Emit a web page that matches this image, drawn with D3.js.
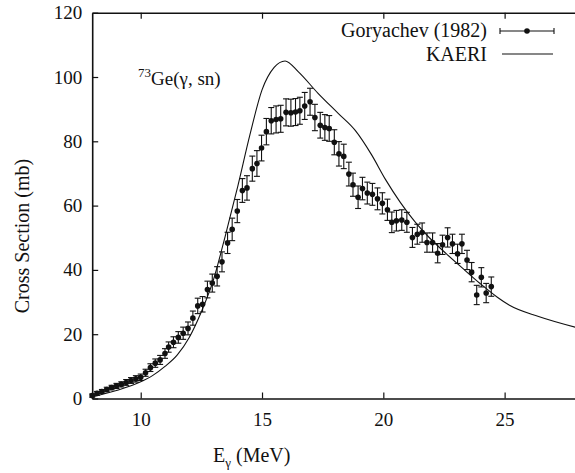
<!DOCTYPE html>
<html>
<head>
<meta charset="utf-8">
<script src="https://cdn.jsdelivr.net/npm/d3@7"></script>
<style>
  html, body { margin: 0; padding: 0; background: #fff; }
  svg { display: block; }
</style>
</head>
<body>
<svg id="chart" width="575" height="473"></svg>
<script>
// ---- Data ----
const energy = [8.0,8.2,8.4,8.6,8.8,9.0,9.2,9.4,9.6,9.8,10.0,
  10.2,10.4,10.6,10.8,11.0,
  11.15,11.35,11.55,11.75,11.95,12.15,12.35,12.55,12.75,12.95,
  13.15,13.35,13.58,13.77,13.98,
  14.19,14.38,14.6,14.79,14.98,
  15.18,15.38,15.58,15.77,15.99,
  16.19,16.38,16.56,16.76,16.98,
  17.18,17.4,17.59,17.77,17.98,
  18.17,18.37,18.58,18.75,18.96,
  19.14,19.34,19.55,19.76,19.96,
  20.17,20.35,20.54,20.76,20.97,
  21.2,21.4,21.6,21.8,
  22.03,22.24,22.44,22.65,22.85,
  23.06,23.24,23.45,23.64,23.85,
  24.04,24.24,24.45];
const crossSection = [0.9,1.6,2.2,2.8,3.4,3.9,4.4,5.0,5.6,6.1,6.6,
  8.0,9.6,11.0,12.0,14.0,
  16.0,17.5,19.0,20.3,21.8,25.0,28.8,29.3,33.9,35.9,
  38.0,42.5,48.4,52.6,58.3,
  64.7,65.5,71.5,73.1,77.9,
  83.0,86.4,86.8,87.0,89.0,
  88.9,89.1,89.5,91.0,92.3,
  87.4,85.0,84.3,84.0,79.7,
  76.1,75.3,69.8,66.5,62.6,
  65.3,63.9,63.5,62.1,60.7,
  58.7,54.8,55.3,55.5,54.8,
  50.1,51.1,51.6,48.5,
  48.5,45.2,47.8,50.1,48.1,
  45.0,48.1,43.1,39.3,32.2,
  37.7,32.8,34.8];
const errors = [0.5,0.6,0.6,0.7,0.7,0.8,0.8,0.9,0.9,1.0,1.0,
  1.1,1.2,1.3,1.4,1.5,
  1.6,1.7,1.8,1.9,2.0,2.2,2.4,2.4,2.6,2.8,
  3.0,3.1,3.3,3.5,3.6,
  3.7,3.8,3.9,4.0,4.0,
  4.1,4.1,4.2,4.2,4.2,
  4.2,4.2,4.2,4.2,4.2,
  4.1,4.0,4.0,4.0,3.9,
  3.8,3.8,3.7,3.6,3.5,
  3.5,3.4,3.4,3.4,3.3,
  3.3,3.2,3.2,3.2,3.1,
  3.1,3.1,3.0,3.0,
  3.0,3.0,3.0,3.0,3.0,
  3.0,3.0,3.0,3.0,3.0,
  3.0,3.0,3.0];

const kaeriEnergy = [8.0,9.0,10.0,10.5,11.0,11.5,12.0,12.5,13.0,13.5,14.0,14.5,15.0,15.5,15.95,16.5,17.3,18.15,18.85,19.5,20.1,20.7,21.3,21.9,22.6,23.3,24.0,24.7,25.2,26.4,28.0];
const kaeriXS     = [0.5,2.5,5.2,7.2,10.0,13.5,19.0,27.0,37.0,51.0,66.0,82.0,96.0,103.0,105.0,101.6,95.0,88.6,83.3,76.0,68.0,61.0,55.0,50.0,45.0,40.3,35.7,31.5,29.0,25.5,22.0];

const xTicks = [10, 15, 20, 25];
const yTicks = [0, 20, 40, 60, 80, 100, 120];
const legendLabels = ["Goryachev (1982)", "KAERI"];

// ---- Layout ----
const svg = d3.select("#chart");
const x = d3.scaleLinear().domain([8, 28]).range([92.2, 577.4]);
const y = d3.scaleLinear().domain([0, 120]).range([398.5, 12.7]);

const axisColor = "#111";
const FONT = "Liberation Serif";

// bottom axis
const gB = svg.append("g").attr("transform", `translate(0,${y(0)})`)
  .call(d3.axisBottom(x).tickValues(xTicks).tickSizeInner(-6).tickSizeOuter(0).tickPadding(14));
// top axis
const gT = svg.append("g").attr("transform", `translate(0,${y(120)})`)
  .call(d3.axisTop(x).tickValues(xTicks).tickSizeInner(-6).tickSizeOuter(0).tickFormat(""));
// left axis
const gL = svg.append("g").attr("transform", `translate(${x(8)},0)`)
  .call(d3.axisLeft(y).tickValues(yTicks).tickSizeInner(-6).tickSizeOuter(0).tickPadding(10));

[gB, gT, gL].forEach(g => {
  g.attr("font-family", FONT);
  g.select(".domain").attr("stroke", axisColor).attr("stroke-width", 1.6);
  g.selectAll(".tick line").attr("stroke", axisColor).attr("stroke-width", 1.2);
  g.selectAll(".tick text").attr("font-family", FONT).attr("font-size", 19).attr("fill", "#111");
});

// KAERI line
svg.append("path")
  .datum(kaeriEnergy.map((e, i) => [e, kaeriXS[i]]))
  .attr("fill", "none")
  .attr("stroke", "#111")
  .attr("stroke-width", 1.1)
  .attr("d", d3.line().curve(d3.curveMonotoneX).x(d => x(d[0])).y(d => y(d[1])));

// Goryachev data with error bars
const pts = energy.map((e, i) => ({e, v: crossSection[i], err: errors[i]}));
const capW = 3;
const gp = svg.append("g");
const eb = gp.selectAll("g.eb").data(pts).join("g").attr("class", "eb");
eb.append("line")
  .attr("x1", d => x(d.e)).attr("x2", d => x(d.e))
  .attr("y1", d => y(d.v - d.err)).attr("y2", d => y(d.v + d.err))
  .attr("stroke", "#111").attr("stroke-width", 1.1);
eb.append("line")
  .attr("x1", d => x(d.e) - capW).attr("x2", d => x(d.e) + capW)
  .attr("y1", d => y(d.v + d.err)).attr("y2", d => y(d.v + d.err))
  .attr("stroke", "#111").attr("stroke-width", 1.1);
eb.append("line")
  .attr("x1", d => x(d.e) - capW).attr("x2", d => x(d.e) + capW)
  .attr("y1", d => y(d.v - d.err)).attr("y2", d => y(d.v - d.err))
  .attr("stroke", "#111").attr("stroke-width", 1.1);
eb.append("circle")
  .attr("cx", d => x(d.e)).attr("cy", d => y(d.v)).attr("r", 2.8)
  .attr("fill", "#111");

// Legend
const lg = svg.append("g");
lg.append("text").attr("x", 487).attr("y", 37).attr("text-anchor", "end")
  .attr("font-family", FONT).attr("font-size", 20).attr("fill", "#111").text(legendLabels[0]);
lg.append("text").attr("x", 487).attr("y", 61).attr("text-anchor", "end")
  .attr("font-family", FONT).attr("font-size", 20).attr("fill", "#111").text(legendLabels[1]);
const ly1 = 31;
lg.append("line").attr("x1", 500).attr("x2", 554).attr("y1", ly1).attr("y2", ly1).attr("stroke", "#111").attr("stroke-width", 1.1);
lg.append("line").attr("x1", 500).attr("x2", 500).attr("y1", ly1 - 3).attr("y2", ly1 + 3).attr("stroke", "#111").attr("stroke-width", 1.1);
lg.append("line").attr("x1", 554).attr("x2", 554).attr("y1", ly1 - 3).attr("y2", ly1 + 3).attr("stroke", "#111").attr("stroke-width", 1.1);
lg.append("circle").attr("cx", 527).attr("cy", ly1).attr("r", 2.8).attr("fill", "#111");
lg.append("line").attr("x1", 502).attr("x2", 553).attr("y1", 54).attr("y2", 54).attr("stroke", "#111").attr("stroke-width", 1.1);

// Reaction annotation
const ann = svg.append("text").attr("x", 138).attr("y", 85)
  .attr("font-family", FONT).attr("font-size", 19).attr("fill", "#111");
ann.append("tspan").attr("font-size", 13).attr("dy", -8).text("73");
ann.append("tspan").attr("dy", 8).text("Ge(γ, sn)");

// Axis titles
const xt = svg.append("text").attr("x", 213).attr("y", 462)
  .attr("font-family", FONT).attr("font-size", 20).attr("fill", "#111");
xt.append("tspan").text("E");
xt.append("tspan").attr("font-size", 13).attr("dy", 5).text("γ");
xt.append("tspan").attr("dy", -5).text(" (MeV)");

svg.append("text")
  .attr("transform", `translate(29,${236}) rotate(-90)`)
  .attr("text-anchor", "middle")
  .attr("font-family", FONT)
  .attr("font-size", 20)
  .attr("fill", "#111")
  .text("Cross Section (mb)");
</script>
</body>
</html>
